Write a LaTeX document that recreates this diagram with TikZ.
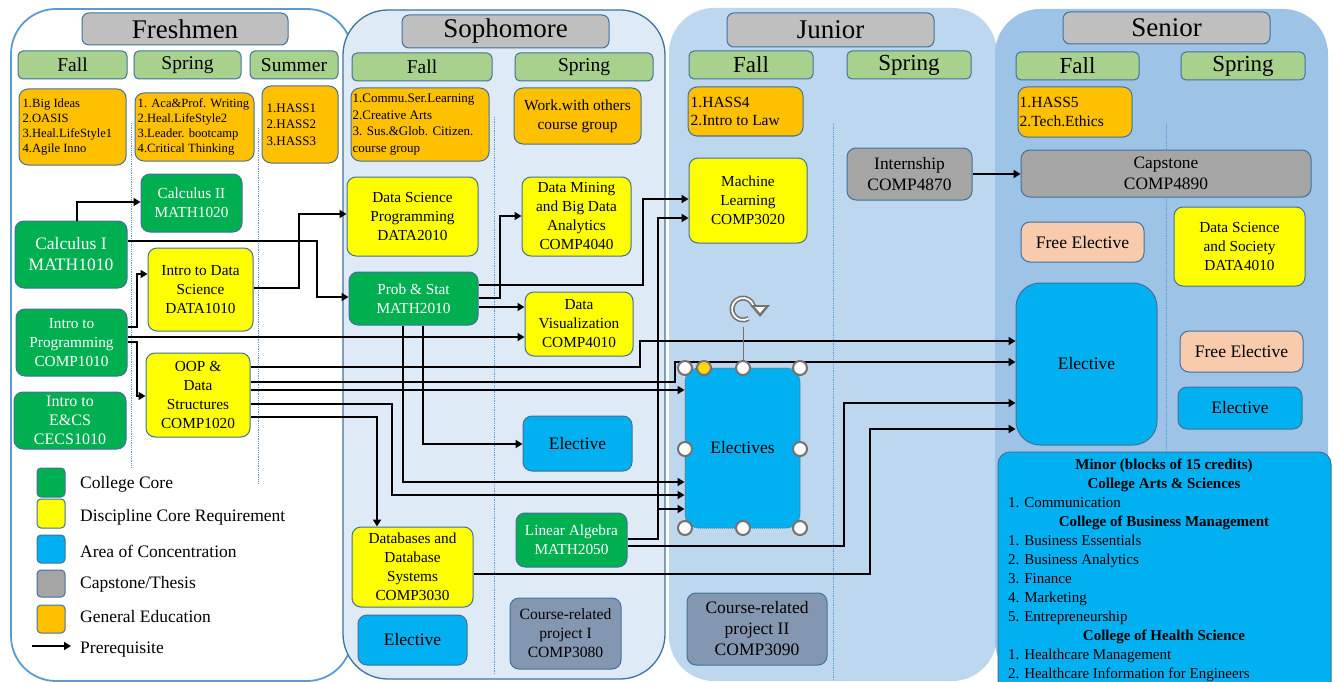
\documentclass[tikz,border=0pt]{standalone}
\usepackage{fontspec}
\setmainfont{Liberation Serif}
\usetikzlibrary{arrows.meta,calc}
\definecolor{bord}{HTML}{41719C}
\definecolor{ccore}{HTML}{00B050}
\definecolor{cdisc}{HTML}{FFFF00}
\definecolor{cconc}{HTML}{00B0F0}
\definecolor{ccaps}{HTML}{A5A5A5}
\definecolor{chdr}{HTML}{BFBFBF}
\definecolor{cseas}{HTML}{A9D18E}
\definecolor{cgen}{HTML}{FFC000}
\definecolor{cfree}{HTML}{F8CBAD}
\definecolor{cproj}{HTML}{8497B0}
\definecolor{csof}{HTML}{DEEBF7}
\definecolor{cjun}{HTML}{BDD7EE}
\definecolor{csen}{HTML}{9DC3E6}
\definecolor{cfrb}{HTML}{5B9BD5}
\definecolor{chand}{HTML}{767171}
\definecolor{cyel}{HTML}{FFD800}
\newcommand\fs[2]{\fontsize{#1}{#2}\selectfont}
\newcommand\bx[7]{\node[#2, minimum width={(#5-#3)*1pt}, minimum height={(#6-#4)*1pt}] (#1) at ({(#3+#5)/2},{(#4+#6)/2}) {#7};}
\begin{document}
\begin{tikzpicture}[x=1pt,y=-1pt,
 box/.style={draw=bord, line width=1pt, rounded corners=9pt, inner sep=1pt, align=center, font=\fs{15.3}{19}},
 core/.style={box, fill=ccore, text=white},
 disc/.style={box, fill=cdisc},
 conc/.style={box, fill=cconc, font=\fs{17.5}{21}},
 caps/.style={box, fill=ccaps, font=\fs{17.4}{21}},
 free/.style={box, fill=cfree, font=\fs{17.6}{21}},
 proj/.style={box, fill=cproj},
 gened/.style={box, fill=cgen},
 gtext/.style={anchor=west, align=left, inner sep=0pt, font=\fs{12.6}{15}},
 hdr/.style={box, fill=chdr, font=\fs{27}{30}, rounded corners=7pt},
 season/.style={box, fill=cseas, font=\fs{19.5}{22}, rounded corners=5pt},
 lgt/.style={anchor=west, inner sep=0pt, font=\fs{17.5}{21}},
 sepl/.style={draw=cfrb, densely dotted, line width=0.8pt},
 arr/.style={line width=2.2pt, -{Triangle[length=7pt,width=8pt]}},
 handle/.style={fill=white, draw=chand, line width=2pt}]
\path[use as bounding box] (0,0) rectangle (1335,682);
\clip (0,0) rectangle (1335,682);
% panels
\draw[draw=cfrb, line width=1.8pt, fill=white, rounded corners=45pt] (11,9) rectangle (352,681);
\draw[draw=bord, line width=1.3pt, fill=csof, rounded corners=45pt] (343,10) rectangle (665,679);
\fill[cjun, rounded corners=45pt] (669,8) rectangle (997,681);
\fill[csen, rounded corners=45pt] (995,9) rectangle (1328,686);
% separators
\draw[sepl] (131,123) -- (131,467);
\draw[sepl] (258,128) -- (258,483);
\draw[sepl] (494,117) -- (494,674);
\draw[sepl] (833,123) -- (833,680);
\draw[sepl] (1166,123) -- (1166,452);
% headers
\bx{hf}{hdr}{82}{13}{288}{45}{Freshmen}
\bx{hs}{hdr}{402}{15}{609}{48}{Sophomore}
\bx{hj}{hdr}{727}{13}{934}{47}{Junior}
\bx{hn}{hdr}{1063}{12}{1270}{44}{Senior}
% seasons
\bx{sf1}{season}{18}{51}{127}{79}{Fall}
\bx{sf2}{season}{134}{51}{241}{79}{Spring}
\bx{sf3}{season}{250}{51}{338}{79}{Summer}
\bx{ss1}{season}{352}{53}{492}{81}{Fall}
\bx{ss2}{season}{515}{53}{653}{81}{Spring}
\bx{sj1}{season,font=\fs{23}{26}}{689}{51}{813}{79}{Fall}
\bx{sj2}{season,font=\fs{23}{26}}{847}{51}{971}{79}{Spring}
\bx{sn1}{season,font=\fs{23}{26}}{1016}{52}{1139}{80}{Fall}
\bx{sn2}{season,font=\fs{23}{26}}{1181}{52}{1305}{80}{Spring}
% general education
\bx{g1}{gened}{19}{89}{126}{165}{}
\node[gtext] (g1t) at ($(g1.west)+(4,0)$) {1.Big Ideas\\2.OASIS\\3.Heal.LifeStyle1\\4.Agile Inno};
\bx{g2}{gened}{135}{93}{254}{161}{}
\node[gtext] (g2t) at ($(g2.west)+(3,0)$) {1. Aca\&Prof. Writing\\2.Heal.LifeStyle2\\3.Leader. bootcamp\\4.Critical Thinking};
\bx{g3}{gened}{262}{86}{338}{163}{}
\node[gtext,font=\fs{13}{16.5}] (g3t) at ($(g3.west)+(5,0)$) {1.HASS1\\2.HASS2\\3.HASS3};
\bx{g4}{gened}{351}{88}{489}{161}{}
\node[gtext,font=\fs{13}{16.7}] (g4t) at ($(g4.west)+(2,0)$) {1.Commu.Ser.Learning\\2.Creative Arts\\3. Sus.\&Glob. Citizen.\\course group};
\bx{g5}{gened,font=\fs{15.4}{19}}{514}{88}{641}{144}{Work.with others\\course group}
\bx{g6}{gened}{688}{87}{803}{136}{}
\node[gtext,font=\fs{15.5}{18.5}] (g6t) at ($(g6.west)+(3,0)$) {1.HASS4\\2.Intro to Law};
\bx{g7}{gened}{1018}{87}{1132}{137}{}
\node[gtext,font=\fs{15.5}{19}] (g7t) at ($(g7.west)+(2,0)$) {1.HASS5\\2.Tech.Ethics};
% freshmen courses
\bx{calc2}{core}{141}{174}{242}{232}{Calculus II\\MATH1020}
\bx{calc1}{core,font=\fs{17.5}{21}}{15}{221}{127}{288}{Calculus I\\MATH1010}
\bx{ids}{disc}{148}{248}{253}{331}{Intro to Data\\Science\\DATA1010}
\bx{prog}{core}{16}{309}{127}{376}{Intro to\\Programming\\COMP1010}
\bx{oop}{disc}{146}{353}{250}{437}{OOP \&\\Data\\Structures\\COMP1020}
\bx{ecs}{core,font=\fs{16}{19}}{14}{392}{126}{449}{Intro to\\E\&CS\\CECS1010}
% sophomore courses
\bx{dsp}{disc}{347}{177}{478}{256}{Data Science\\Programming\\DATA2010}
\bx{dmine}{disc}{522}{177}{631}{256}{Data Mining\\and Big Data\\Analytics\\COMP4040}
\bx{prob}{core}{349}{272}{478}{325}{Prob \& Stat\\MATH2010}
\bx{dvis}{disc}{525}{292}{633}{356}{Data\\Visualization\\COMP4010}
\bx{sel2}{conc}{523}{416}{632}{471}{Elective}
\bx{db}{disc}{352}{527}{473}{607}{Databases and\\Database\\Systems\\COMP3030}
\bx{sel3}{conc}{358}{615}{467}{665}{Elective}
\bx{linalg}{core}{516}{513}{627}{567}{Linear Algebra\\MATH2050}
\bx{proj1}{proj,font=\fs{15.6}{19}}{510}{598}{621}{669}{Course-related\\project I\\COMP3080}
% junior courses
\bx{ml}{disc}{689}{158}{807}{243}{Machine\\Learning\\COMP3020}
\bx{intern}{caps}{847}{148}{972}{200}{Internship\\COMP4870}
\bx{elecs}{conc,draw=chand,densely dotted,rounded corners=14pt}{685}{368}{800}{528}{Electives}
\bx{proj2}{proj,font=\fs{17.5}{21}}{687}{593}{827}{665}{Course-related\\project II\\COMP3090}
% senior courses
\bx{cap}{caps}{1021}{150}{1311}{197}{Capstone\\COMP4890}
\bx{fe1}{free}{1021}{222}{1144}{262}{Free Elective}
\bx{dss}{disc}{1174}{207}{1305}{286}{Data Science\\and Society\\DATA4010}
\bx{selec}{conc,rounded corners=24pt}{1016}{283}{1157}{445}{Elective}
\bx{fe2}{free}{1180}{331}{1303}{372}{Free Elective}
\bx{sel4}{conc}{1178}{387}{1302}{429}{Elective}
% minor
\bx{minor}{conc,rounded corners=12pt}{998}{452}{1331}{694}{}
\node[anchor=north, inner sep=0pt, font=\fs{15}{19}] (minort) at (1164,456) {%
\begin{tabular}{@{}p{312pt}@{}}
\multicolumn{1}{@{}c@{}}{\textbf{Minor (blocks of 15 credits)}}\\
\multicolumn{1}{@{}c@{}}{\textbf{College Arts \& Sciences}}\\
1. Communication\\
\multicolumn{1}{@{}c@{}}{\textbf{College of Business Management}}\\
1. Business Essentials\\
2. Business Analytics\\
3. Finance\\
4. Marketing\\
5. Entrepreneurship\\
\multicolumn{1}{@{}c@{}}{\textbf{College of Health Science}}\\
1. Healthcare Management\\
2. Healthcare Information for Engineers
\end{tabular}};
% legend
\bx{l1}{box,fill=ccore,rounded corners=4pt}{37}{468}{65}{497}{}
\bx{l2}{box,fill=cdisc,rounded corners=4pt}{37}{499}{65}{528}{}
\bx{l3}{box,fill=cconc,rounded corners=4pt}{37}{535}{65}{563}{}
\bx{l4}{box,fill=ccaps,rounded corners=4pt}{37}{570}{65}{597}{}
\bx{l5}{box,fill=cgen,rounded corners=4pt}{37}{605}{65}{633}{}
\node[lgt] (l1t) at (80,484) {College Core};
\node[lgt] (l2t) at (80,517) {Discipline Core Requirement};
\node[lgt] (l3t) at (80,551) {Area of Concentration};
\node[lgt] (l4t) at (80,584) {Capstone/Thesis};
\node[lgt] (l5t) at (80,617) {General Education};
\node[lgt] (l6t) at (80,650) {Prerequisite};
\coordinate (la1) at (32,646);
\coordinate (la2) at (71,646);
\draw[arr] (la1) -- (la2);
% connectors
\draw[arr] (77,0 |- calc1.north) |- (calc2.west |- 0,202);
\draw[arr] (calc1.east |- 0,241) -| (317,297) -- (prob.west |- 0,297);
\draw[arr] (prog.east |- 0,327) -| (137,274) -- (ids.west |- 0,274);
\draw[arr] (prog.east |- 0,342) -| (137,396) -- (oop.west |- 0,396);
\draw[arr] (prog.east |- 0,337) -- (dvis.west |- 0,337);
\draw[arr] (ids.east |- 0,288) -| (299,214) -- (dsp.west |- 0,214);
\draw[arr] (prob.east |- 0,298) -| (500,216) -- (dmine.west |- 0,216);
\draw[arr] (prob.east |- 0,307) -- (dvis.west |- 0,307);
\draw[arr] (prob.east |- 0,285) -| (643,199) -- (ml.west |- 0,199);
\draw[arr] (linalg.east |- 0,539) -| (658,218) -- (ml.west |- 0,218);
\coordinate (j1) at (658,509);
\draw[arr] (j1) -- (elecs.west |- j1);
\draw[arr] (linalg.east |- 0,546) -| (844,403) -- (selec.west |- 0,403);
\draw[arr] (db.east |- 0,574) -| (870,429) -- (selec.west |- 0,429);
\draw[arr] (oop.east |- 0,367) -| (640,341) -- (selec.west |- 0,341);
\draw[arr] (oop.east |- 0,382) -| (675,362) -- (selec.west |- 0,362);
\draw[arr] (oop.east |- 0,390) -- (elecs.west |- 0,390);
\draw[arr] (oop.east |- 0,404) -| (392,495) -- (elecs.west |- 0,495);
\draw[arr] (oop.east |- 0,417) -| (377,0 |- db.north);
\draw[arr] (403,0 |- prob.south) |- (elecs.west |- 0,482);
\draw[arr] (423,0 |- prob.south) |- (sel2.west |- 0,444);
\draw[arr] (intern.east) -- (cap.west |- intern.east);
% selection handles
\draw[chand, line width=1pt] (743,327) -- (743,368);
\draw[chand, line width=5pt] ([shift={(15:11pt)}]743,309) arc[start angle=15, end angle=300, radius=11pt];
\draw[white, line width=1.8pt] ([shift={(15:11pt)}]743,309) arc[start angle=15, end angle=300, radius=11pt];
\fill[chand] (750,305) -- (770,305) -- (760,317) -- cycle;
\fill[white] (755,307) -- (765,307) -- (760,313) -- cycle;
\foreach \p in {(685,368),(743,368),(800,368),(685,449),(800,449),(685,528),(743,528),(800,528)}
  \draw[handle] \p circle[radius=7pt];
\draw[handle, fill=cyel] (704,368) circle[radius=7pt];
\end{tikzpicture}
\end{document}
